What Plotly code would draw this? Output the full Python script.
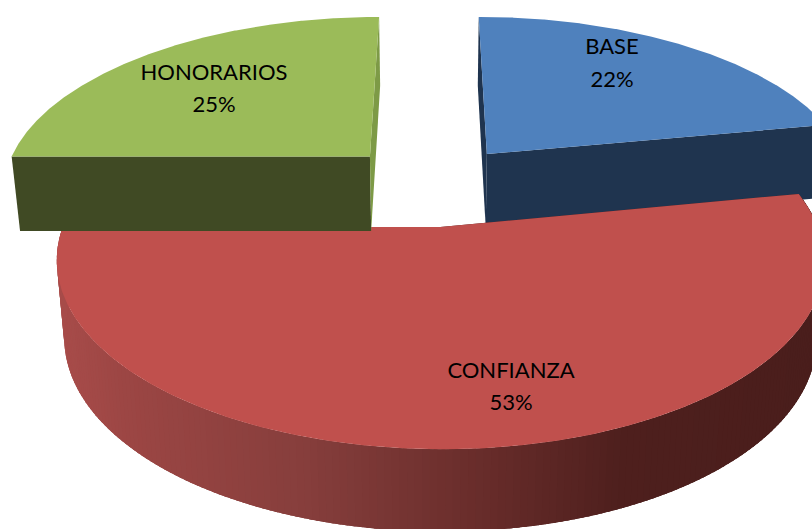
import numpy as np
import plotly.graph_objects as go

# Data
categories = ["BASE", "CONFIANZA", "HONORARIOS"]
values = [22, 53, 25]

# Style
top_colors = ["#4f81bd", "#c0504d", "#9bbb59"]
cut_colors = ["#1f344f", "#4e1f1d", "#404a24"]
sliver_colors = ["#1f344f", "#4e1f1d", "#7d9a46"]
radius_x = [1.0, 0.98, 1.0]
radius_y = [1.02, 0.995, 1.035]
label_xy = {"BASE": (612, 48, 81), "CONFIANZA": (511, 372, 404), "HONORARIOS": (214, 74, 106)}
wall_stops_x = [55, 120, 300, 470, 620, 812]
wall_stops_rgb = [(168, 76, 74), (156, 70, 68), (134, 62, 60), (105, 45, 43), (78, 31, 29), (74, 30, 28)]

# Projection of the flat pie on to the page (perspective ellipse)
CX, CY, A, B, K, EXPLODE = 431.5, 184.5, 369.0, 168.0, 0.174, 0.243
H0, H1, BOTTOM_SCALE = 75.5, 5.5, 0.98


def project(px, py, bottom=False):
    s = 1.0 / (1.0 - K * py)
    x = A * px * s
    y = CY + B * py * s
    if bottom:
        x *= BOTTOM_SCALE
        y += H0 + H1 * py
    return CX + x, y


def poly(xs, ys, color):
    return go.Scatter(
        x=list(xs), y=list(ys), mode="lines", fill="toself", fillcolor=color,
        line=dict(color=color, width=0), hoverinfo="skip", showlegend=False,
    )


def wall_color(x):
    rgb = [np.interp(x, wall_stops_x, [c[i] for c in wall_stops_rgb]) for i in range(3)]
    return "rgb(%d,%d,%d)" % tuple(round(v) for v in rgb)


total = sum(values)
starts = np.cumsum([0] + values[:-1]) / total * 2 * np.pi
ends = np.cumsum(values) / total * 2 * np.pi
slices = {}
for name, t0, t1, top, cut, sliver, rx, ry in zip(categories, starts, ends, top_colors, cut_colors,
                                                  sliver_colors, radius_x, radius_y):
    mid = (t0 + t1) / 2
    ox, oy = EXPLODE * np.sin(mid), -EXPLODE * np.cos(mid)
    t = np.linspace(t0, t1, 400)
    slices[name] = dict(ox=ox, oy=oy, px=ox + rx * np.sin(t), py=oy - ry * np.cos(t),
                        top=top, cut=cut, sliver=sliver)


traces = []


def add_slice(name):
    d = slices[name]
    ox, oy, px, py = d["ox"], d["oy"], d["px"], d["py"]
    # outer wall: overlapping strips, painted in turn, so the shade changes along the rim
    if name == "CONFIANZA":
        step = 2
        for i in range(0, len(px) - step, step):
            j = i + step + 4
            xa, ya = project(px[i:j], py[i:j])
            xb, yb = project(px[i:j], py[i:j], bottom=True)
            traces.append(poly(np.r_[xa, xb[::-1]], np.r_[ya, yb[::-1]], wall_color(np.mean(xa))))
    # the two cut faces
    for j in (0, -1):
        x1, y1 = project(np.array([ox, px[j]]), np.array([oy, py[j]]))
        x2, y2 = project(np.array([ox, px[j]]), np.array([oy, py[j]]), bottom=True)
        far = abs(py[j] - oy) > 0.9
        color = d["sliver"] if far else d["cut"]
        traces.append(poly(np.r_[x1, x2[::-1]], np.r_[y1, y2[::-1]], color))
    # top face
    xt, yt = project(np.r_[ox, px], np.r_[oy, py])
    traces.append(poly(xt, yt, d["top"]))


# Painting order: blue behind red, green in front of red
add_slice("BASE")
add_slice("CONFIANZA")
add_slice("HONORARIOS")

# Labels
lx, ly, lt = [], [], []
for name, v in zip(categories, values):
    x, y1, y2 = label_xy[name]
    lx += [x, x]
    ly += [y1, y2]
    lt += [name, f"{v}%"]
traces.append(go.Scatter(
    x=lx, y=ly, text=lt, mode="text", textposition="middle center",
    textfont=dict(family="Lato, Carlito, sans-serif", size=22, color="#000000"),
    hoverinfo="skip", showlegend=False,
))

fig = go.Figure(traces)
fig.update_layout(
    width=812, height=529, margin=dict(l=0, r=0, t=0, b=0),
    paper_bgcolor="#ffffff", plot_bgcolor="#ffffff",
    xaxis=dict(range=[0, 812], visible=False, fixedrange=True),
    yaxis=dict(range=[529, 0], visible=False, fixedrange=True),
)
fig.write_html("out.html", config={"displayModeBar": False},
               post_script="document.body.style.margin='0';document.body.style.overflow='hidden';")
